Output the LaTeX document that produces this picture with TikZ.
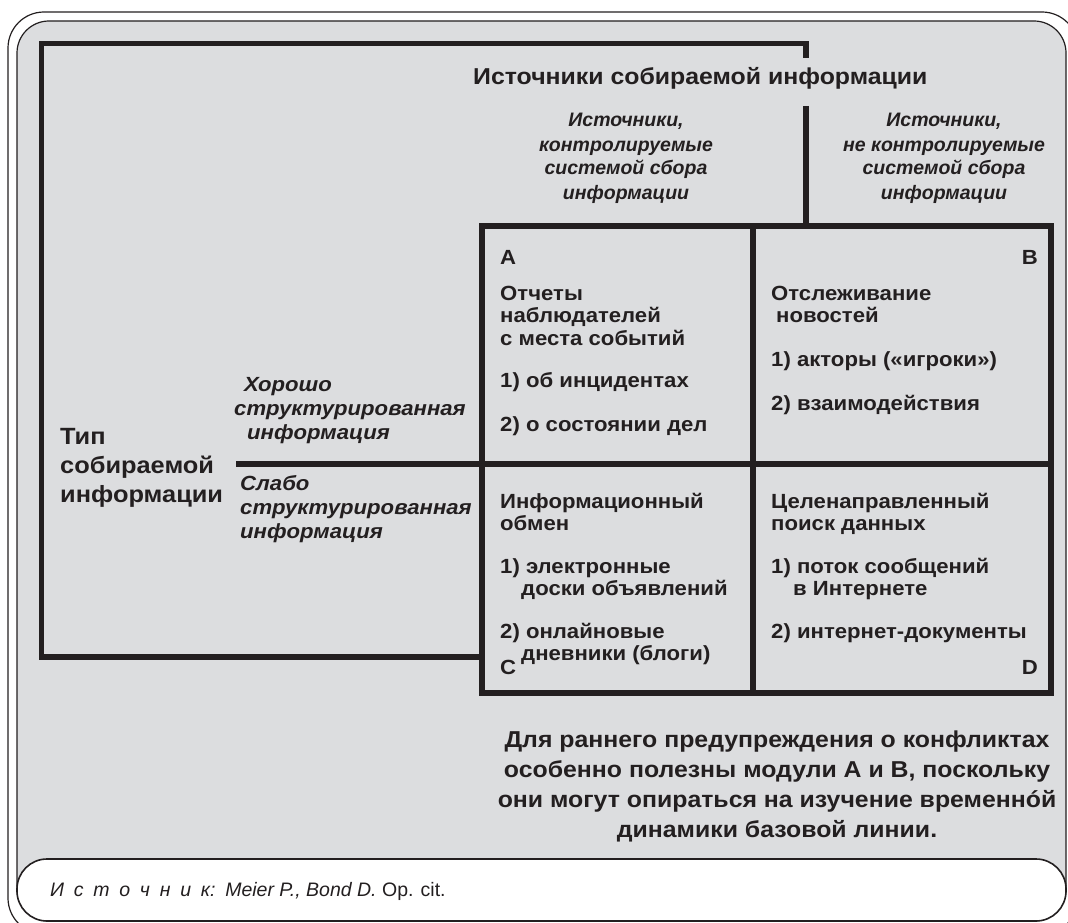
\documentclass[tikz,border=0pt]{standalone}
\usepackage{fontspec}
\setmainfont{Liberation Sans}
\newfontfamily\widefont[FakeStretch=1.08]{Liberation Sans}
\definecolor{bg}{RGB}{220,221,223}
\definecolor{ink}{RGB}{35,31,32}
\tikzset{
  frameline/.style={draw=ink, line width=1.2pt},
  thick line/.style={draw=ink, line width=5.2pt},
  txt/.style={anchor=base west, inner sep=0pt, text=ink, font=\widefont\fontsize{20.5}{22}\selectfont\bfseries},
  txtr/.style={txt, anchor=base east},
  hdr/.style={anchor=base, inner sep=0pt, text=ink, font=\fontsize{19.5}{22}\selectfont\bfseries\itshape},
  side/.style={txt, font=\widefont\fontsize{20.5}{22}\selectfont\bfseries\itshape},
  big/.style={txt, font=\widefont\fontsize{23}{26}\selectfont\bfseries},
  bigl/.style={txt, font=\widefont\fontsize{23.5}{26}\selectfont\bfseries},
  note/.style={anchor=base, inner sep=0pt, text=ink, font=\widefont\fontsize{23}{26}\selectfont\bfseries},
  src/.style={anchor=base west, inner sep=0pt, text=ink, font=\fontsize{19.5}{22}\selectfont},
}
\begin{document}
\begin{tikzpicture}[x=1pt,y=-1pt]
\useasboundingbox (0,0) rectangle (1068,923);
% frames
\draw[frameline, rounded corners=36pt] (8,12) rectangle (1078,934);
\draw[frameline, fill=bg, rounded corners=32pt] (17,21) rectangle (1066,921);
\draw[draw=ink, line width=1.6pt, fill=white, rounded corners=30pt] (17,859) rectangle (1066,921);
% coordinates
\coordinate (tl) at (41.5,43.5);
\coordinate (tr) at (806,43.5);
\coordinate (trd) at (806,58);
\coordinate (bl) at (41.5,657);
\coordinate (br) at (482,657);
\coordinate (vt) at (806,106);
\coordinate (vb) at (806,226);
\coordinate (g1) at (482,226);
\coordinate (g2) at (1051,693);
\coordinate (mt) at (753,226);
\coordinate (mb) at (753,693);
\coordinate (mr) at (1051,464);
\coordinate (sl) at (236,464);
% thick lines
\draw[thick line, line join=miter] (trd) -- (tr) -- (tl) -- (bl) -- (br);
\draw[thick line] (vt) -- (vb);
\draw[thick line, line join=miter] (g1) rectangle (g2);
\draw[thick line] (mt) -- (mb);
\draw[thick line] (sl) -- (mr);
% header
\node[big] (h0) at (473,85) {Источники собираемой информации};
\node[hdr] (hl1) at (626,127) {Источники,};
\node[hdr] (hl2) at (626,151) {контролируемые};
\node[hdr] (hl3) at (626,175) {системой сбора};
\node[hdr] (hl4) at (626,199) {информации};
\node[hdr] (hr1) at (944,127) {Источники,};
\node[hdr] (hr2) at (944,151) {не контролируемые};
\node[hdr] (hr3) at (944,175) {системой сбора};
\node[hdr] (hr4) at (944,199) {информации};
% cell A
\node[txt] (aL) at (500,264) {A};
\node[txt] (a1) at (500,300) {Отчеты};
\node[txt] (a2) at (500,322) {наблюдателей};
\node[txt] (a3) at (500,345) {с места событий};
\node[txt] (a4) at (500,387) {1) об инцидентах};
\node[txt] (a5) at (500,431) {2) о состоянии дел};
% cell B
\node[txtr] (bL) at (1038,264) {B};
\node[txt] (b1) at (771,300) {Отслеживание};
\node[txt] (b2) at (776,322) {новостей};
\node[txt] (b3) at (771,366) {1) акторы («игроки»)};
\node[txt] (b4) at (771,410) {2) взаимодействия};
% cell C
\node[txt] (c1) at (500,508) {Информационный};
\node[txt] (c2) at (500,530) {обмен};
\node[txt] (c3) at (500,573) {1) электронные};
\node[txt] (c4) at (521,595) {доски объявлений};
\node[txt] (c5) at (500,638) {2) онлайновые};
\node[txt] (c6) at (521,660) {дневники (блоги)};
\node[txt] (cL) at (500,674) {C};
% cell D
\node[txt] (d1) at (771,508) {Целенаправленный};
\node[txt] (d2) at (771,530) {поиск данных};
\node[txt] (d3) at (771,573) {1) поток сообщений};
\node[txt] (d4) at (793,595) {в Интернете};
\node[txt] (d5) at (771,638) {2) интернет-документы};
\node[txtr] (dL) at (1038,674) {D};
% left labels
\node[bigl] (t1) at (60,444) {Тип};
\node[bigl] (t2) at (60,473) {собираемой};
\node[bigl] (t3) at (60,502) {информации};
\node[side] (w1) at (244,391) {Хорошо};
\node[side] (w2) at (234,415) {структурированная};
\node[side] (w3) at (247,439) {информация};
\node[side] (s1) at (240,490) {Слабо};
\node[side] (s2) at (240,514) {структурированная};
\node[side] (s3) at (240,538) {информация};
% note
\node[note] (n1) at (777,747) {Для раннего предупреждения о конфликтах};
\node[note] (n2) at (777,777) {особенно полезны модули А и В, поскольку};
\node[note] (n3) at (777,807) {они могут опираться на изучение временнóй};
\node[note] (n4) at (777,837) {динамики базовой линии.};
% source
\node[src] (src) at (50,896) {\textit{И\hspace{0.5em}с\hspace{0.5em}т\hspace{0.5em}о\hspace{0.5em}ч\hspace{0.5em}н\hspace{0.5em}и\hspace{0.5em}к:\hspace{0.5em}Meier P., Bond D.} Op. cit.};
\end{tikzpicture}
\end{document}
